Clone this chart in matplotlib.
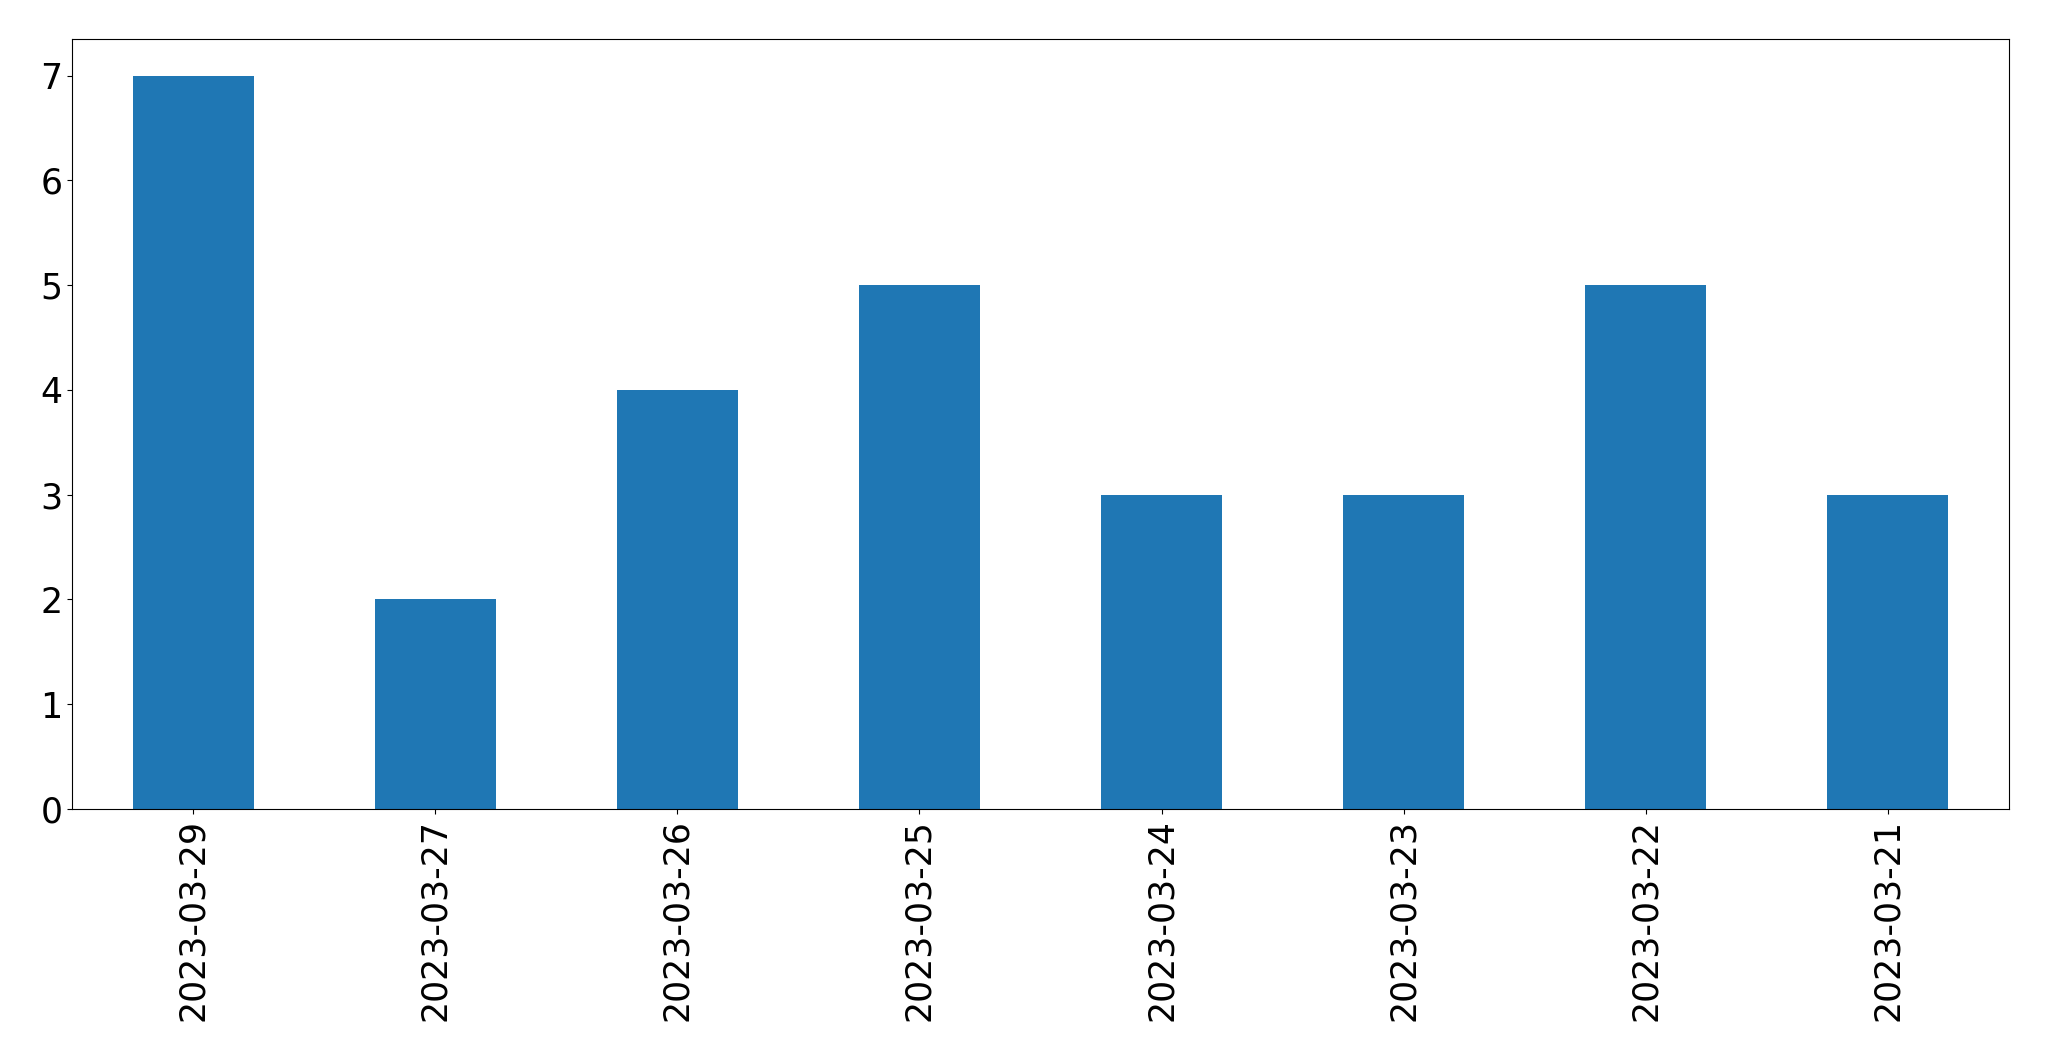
import matplotlib
matplotlib.use("Agg")
import matplotlib.pyplot as plt

dates = ["2023-03-29", "2023-03-27", "2023-03-26", "2023-03-25",
         "2023-03-24", "2023-03-23", "2023-03-22", "2023-03-21"]
counts = [7, 2, 4, 5, 3, 3, 5, 3]

fig = plt.figure(figsize=(20.49, 10.61), dpi=100)
ax = fig.add_axes([72/2049, 1-809/1061, (2009-72)/2049, (809-39)/1061])
x = list(range(len(dates)))
ax.bar(x, counts, width=0.5, color="#1f77b4")
ax.set_xlim(-0.5, len(dates) - 0.5)
ax.set_ylim(0, max(counts) * 1.05)
ax.set_xticks(x)
ax.set_xticklabels(dates, rotation=90)
ax.tick_params(labelsize=25)
fig.savefig("out.png", dpi=100)
